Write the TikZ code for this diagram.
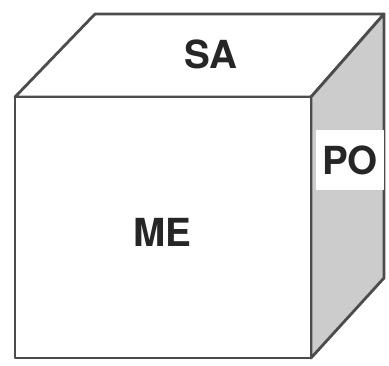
\documentclass[tikz,border=0pt]{standalone}
\usepackage{fontspec}
\setsansfont{TeX Gyre Heros}
\usepackage{tikz}
\tikzset{
	edge/.style={line width=2.4pt, draw=black!70, line join=round},
	side/.style={edge, fill=black!20},
	face/.style={edge, fill=white},
	lbl/.style={font=\sffamily\bfseries\fontsize{33}{33}\selectfont, text=black!85, inner sep=2pt}
}

\begin{document}
\begin{tikzpicture}[x=0.03cm, y=-0.03cm]
        \useasboundingbox (0,0) rectangle (389,366);

        % ==================================================
        % 1. CORNERS OF THE BOX
        % ==================================================
        \coordinate (FBL) at (15, 358);
        \coordinate (FBR) at (311, 358);
        \coordinate (FTR) at (311, 97);
        \coordinate (FTL) at (15, 97);
        \coordinate (BTL) at (95, 14);
        \coordinate (BTR) at (384, 14);
        \coordinate (BBR) at (384, 278);

        % ==================================================
        % 2. FACES
        % ==================================================
        % Top face SA
        \draw[face] (FTL) -- (BTL) -- (BTR) -- (FTR) -- cycle;

        % Right face PO
        \draw[side] (FTR) -- (BTR) -- (BBR) -- (FBR) -- cycle;

        % Front face ME
        \draw[face] (FBL) -- (FBR) -- (FTR) -- (FTL) -- cycle;

        % ==================================================
        % 3. LABELS
        % ==================================================
        \node[lbl] (sa) at (211, 54) {SA};
        \node[lbl] (me) at (162, 232) {ME};
        \node[lbl, fill=white, minimum width=2.05cm, minimum height=1.8cm] (po) at (350, 160) {PO};

\end{tikzpicture}
\end{document}
